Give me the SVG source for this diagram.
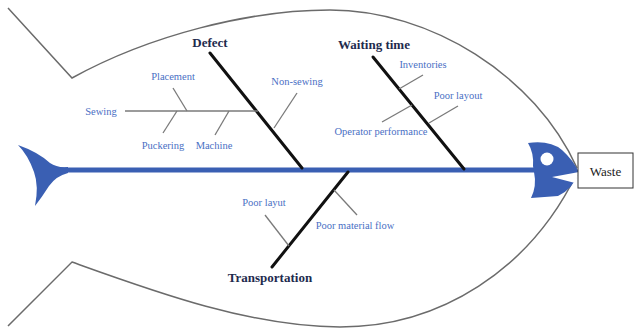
<svg xmlns="http://www.w3.org/2000/svg" width="643" height="334" viewBox="0 0 643 334">
<style>
.outline{fill:none;stroke:#6b6b6b;stroke-width:1.5}
.bone{stroke:#111;stroke-width:3;stroke-linecap:round}
.sub{stroke:#7a7a7a;stroke-width:1.3}
.fish{fill:#3a5fb3}
text{font-family:'Liberation Serif','Times New Roman','DejaVu Serif',serif}
.cat{font-weight:bold;font-size:13px;fill:#1e2b4e;text-anchor:middle}
.lbl{font-size:10.5px;fill:#4a6fc4;text-anchor:middle}
.box{fill:#fff;stroke:#333;stroke-width:1}
</style>
<rect width="643" height="334" fill="#fff"/>
<g id="body">
<path class="outline" d="M8,8 L72,78 C150,35 250,10 330,10 C430,10 535,75 577,168"/>
<path class="outline" d="M8,326 L72,262 C150,290 250,327 340,327 C440,327 530,270 577,173"/>
</g>
<g id="tail">
<path class="fish" d="M18,145 Q38,152 50,163 Q57,168 68,167 L68,173 Q56,176 49,186 Q42,197 35,206 Q39,186 34,172 Q28,155 18,145 Z"/>
</g>
<g id="spine">
<line x1="60" y1="170" x2="545" y2="170" stroke="#3a5fb3" stroke-width="5"/>
</g>
<g id="head">
<path class="fish" d="M528,143 Q550,140 562,150 Q573,160 579,172 Q573,189 558,196 L531,198 Q537,186 534,172 L533,166 Q534,153 528,143 Z"/>
<circle cx="547" cy="159" r="6.5" fill="#fff"/>
<path d="M552,177 L579,172 L575,183 Z" fill="#fff"/>
</g>
<g id="connectors">
<line class="bone" x1="210" y1="53" x2="302" y2="168"/>
<line class="bone" x1="373" y1="57" x2="464" y2="169"/>
<line class="bone" x1="272" y1="267" x2="348" y2="172"/>
<line class="sub" x1="125" y1="111" x2="258" y2="111"/>
<line class="sub" x1="173" y1="88" x2="187" y2="111"/>
<line class="sub" x1="163" y1="133" x2="177" y2="111"/>
<line class="sub" x1="215" y1="135" x2="229" y2="111"/>
<line class="sub" x1="297" y1="93" x2="274" y2="128"/>
<line class="sub" x1="423" y1="75" x2="399" y2="89"/>
<line class="sub" x1="382" y1="122" x2="412" y2="105"/>
<line class="sub" x1="458" y1="106" x2="429" y2="123"/>
<line class="sub" x1="265" y1="215" x2="289" y2="246"/>
<line class="sub" x1="334" y1="190" x2="357" y2="215"/>
</g>
<g id="defect"><text class="cat" x="210" y="47">Defect</text></g>
<g id="waiting"><text class="cat" x="374" y="49">Waiting time</text></g>
<g id="transportation"><text class="cat" x="270" y="282">Transportation</text></g>
<g id="sewing"><text class="lbl" x="101" y="115">Sewing</text></g>
<g id="placement"><text class="lbl" x="173" y="80">Placement</text></g>
<g id="puckering"><text class="lbl" x="163" y="149">Puckering</text></g>
<g id="machine"><text class="lbl" x="214" y="149">Machine</text></g>
<g id="nonsewing"><text class="lbl" x="297" y="85">Non-sewing</text></g>
<g id="inventories"><text class="lbl" x="423" y="68">Inventories</text></g>
<g id="poorlayout1"><text class="lbl" x="458" y="99">Poor layout</text></g>
<g id="operator"><text class="lbl" x="381" y="135">Operator performance</text></g>
<g id="poorlayut2"><text class="lbl" x="264" y="206">Poor layut</text></g>
<g id="materialflow"><text class="lbl" x="355" y="229">Poor material flow</text></g>
<g id="waste">
<rect class="box" x="578" y="153" width="55" height="35"/>
<text x="605.5" y="176" font-size="13" fill="#222" text-anchor="middle">Waste</text>
</g>
</svg>
